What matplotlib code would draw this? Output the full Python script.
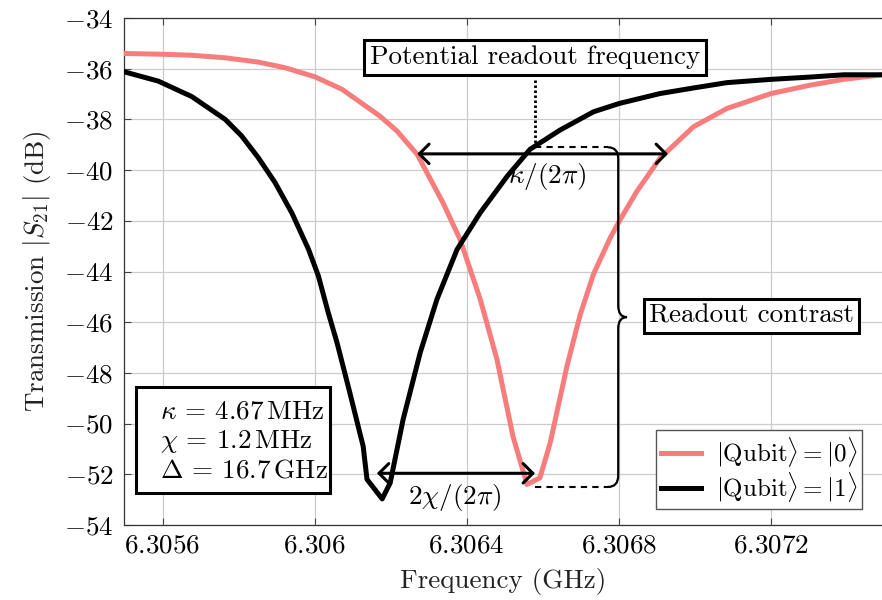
import matplotlib
matplotlib.use('Agg')
import matplotlib.pyplot as plt
from matplotlib.path import Path
from matplotlib.patches import PathPatch, Rectangle

plt.rcParams.update({
    'font.family': 'serif',
    'font.serif': ['cmr10'],
    'mathtext.fontset': 'cm',
    'axes.unicode_minus': False,
    'font.size': 19.5,
})

# ---- data ----
freq_q0 = [6.305501, 6.305600, 6.305677, 6.305765, 6.305852, 6.305922, 6.306001,
           6.306072, 6.306172, 6.306217, 6.306270, 6.306338, 6.306383, 6.306436,
           6.306480, 6.306522, 6.306559, 6.306593, 6.306620, 6.306664, 6.306699,
           6.306734, 6.306778, 6.306802, 6.306848, 6.306909, 6.306997, 6.307085,
           6.307201, 6.307304, 6.307392, 6.307493]
s21_q0 = [-35.40, -35.43, -35.47, -35.57, -35.74, -35.96, -36.32,
          -36.81, -37.87, -38.46, -39.38, -41.29, -42.74, -45.10,
          -47.47, -50.50, -52.40, -52.14, -50.76, -47.74, -45.70,
          -44.10, -42.67, -42.01, -40.84, -39.53, -38.29, -37.57,
          -36.98, -36.65, -36.42, -36.24]

freq_q1 = [6.305501, 6.305589, 6.305677, 6.305765, 6.305808, 6.305852, 6.305896,
           6.305940, 6.305984, 6.306010, 6.306036, 6.306059, 6.306093, 6.306128,
           6.306138, 6.306178, 6.306199, 6.306233, 6.306278, 6.306322, 6.306375,
           6.306436, 6.306507, 6.306567, 6.306646, 6.306734, 6.306802, 6.306909,
           6.306997, 6.307085, 6.307201, 6.307304, 6.307392, 6.307493]
s21_q1 = [-36.13, -36.49, -37.10, -38.00, -38.65, -39.51, -40.49,
          -41.68, -43.12, -44.17, -45.62, -46.80, -48.79, -50.90,
          -52.20, -52.97, -52.34, -49.84, -47.20, -45.10, -43.13,
          -41.68, -40.24, -39.18, -38.42, -37.70, -37.37, -36.98,
          -36.76, -36.55, -36.42, -36.33, -36.24, -36.24]

x_ticks = [6.3056, 6.3060, 6.3064, 6.3068, 6.3072]
x_tick_labels = ['6.3056', '6.306', '6.3064', '6.3068', '6.3072']
y_ticks = [-54, -52, -50, -48, -46, -44, -42, -40, -38, -36, -34]

labels = [r'$|\mathrm{Qubit}\rangle = |0\rangle$', r'$|\mathrm{Qubit}\rangle = |1\rangle$']
params_text = '\n'.join([r'$\kappa$ = 4.67$\,$MHz', r'$\chi$ = 1.2$\,$MHz', r'$\Delta$ = 16.7$\,$GHz'])

# annotation anchors (data units)
readout_f = 6.30658
contrast_top = -39.1
contrast_bot = -52.5
kappa_left, kappa_right, kappa_y = 6.30627, 6.30693, -39.36
chi_left, chi_right, chi_y = 6.306164, 6.30658, -51.96

RED = '#F77C7C'

fig = plt.figure(figsize=(8.82, 6.0), dpi=100)
ax = fig.add_axes([124.5 / 882, 75 / 600, 757.5 / 882, 507 / 600])

ax.plot(freq_q0, s21_q0, color=RED, lw=3.6, label=labels[0], solid_joinstyle='round', zorder=3)
ax.plot(freq_q1, s21_q1, color='black', lw=3.6, label=labels[1], solid_joinstyle='round', zorder=3)

ax.set_xlim(6.3055, 6.307493)
ax.set_ylim(-54, -34)
ax.set_xticks(x_ticks)
ax.set_xticklabels(['$' + t + '$' for t in x_tick_labels])
ax.set_yticks(y_ticks)
ax.set_yticklabels(['$%d$' % v for v in y_ticks])
ax.grid(True, color='#cccccc', lw=0.9, zorder=0)
ax.set_axisbelow(True)
ax.tick_params(direction='in', length=5, width=0.8, color='#444444',
               top=True, right=False, pad=6)
ax.tick_params(axis='y', pad=8)
for s in ['left', 'bottom', 'top']:
    ax.spines[s].set_linewidth(0.9)
    ax.spines[s].set_color('#333333')
ax.spines['right'].set_visible(False)

ax.set_xlabel('Frequency (GHz)', labelpad=8, color='#222222')
ax.set_ylabel(r'Transmission $|S_{21}|$ (dB)', labelpad=8, color='#222222')

# potential readout frequency
ax.text(readout_f, -35.56, 'Potential readout frequency', ha='center', va='center',
        bbox=dict(boxstyle='square,pad=0.2', fc='white', ec='black', lw=2.2), zorder=5)
ax.plot([readout_f, readout_f], [-36.45, contrast_top + 0.15], color='black', lw=2.0,
        linestyle=(0, (0.9, 0.9)), zorder=4)

# kappa arrow
ax.annotate('', xy=(kappa_right, kappa_y), xytext=(kappa_left, kappa_y),
            arrowprops=dict(arrowstyle='<->,head_length=0.35,head_width=0.35', lw=2.2,
                            color='black', shrinkA=0, shrinkB=0, mutation_scale=20), zorder=4)
ax.text(6.306613, -40.27, r'$\kappa/(2\pi)$', ha='center', va='center', zorder=4)

# chi arrow
ax.annotate('', xy=(chi_right, chi_y), xytext=(chi_left, chi_y),
            arrowprops=dict(arrowstyle='<->,head_length=0.35,head_width=0.35', lw=2.2,
                            color='black', shrinkA=0, shrinkB=0, mutation_scale=20), zorder=4)
ax.text(6.306368, -52.9, r'$2\chi/(2\pi)$', ha='center', va='center', zorder=4)

# dashed guides
bx0 = 6.306772
bx = 6.306799
tipx = 6.306822
ax.plot([readout_f, bx0], [contrast_top, contrast_top], color='black', lw=1.5,
        linestyle=(0, (3, 2.5)), zorder=4)
ax.plot([readout_f, bx0], [contrast_bot, contrast_bot], color='black', lw=1.5,
        linestyle=(0, (3, 2.5)), zorder=4)

# brace
ymid = 0.5 * (contrast_top + contrast_bot)
r = 0.45
verts = [(bx0, contrast_top), (bx, contrast_top), (bx, contrast_top - r),
         (bx, ymid + r), (bx, ymid), (tipx, ymid), (bx, ymid), (bx, ymid - r),
         (bx, contrast_bot + r), (bx, contrast_bot), (bx0, contrast_bot)]
codes = [Path.MOVETO, Path.CURVE3, Path.CURVE3, Path.LINETO, Path.CURVE3, Path.CURVE3,
         Path.CURVE3, Path.CURVE3, Path.LINETO, Path.CURVE3, Path.CURVE3]
ax.add_patch(PathPatch(Path(verts, codes), fc='none', ec='black', lw=1.6, zorder=4))

ax.text(6.30715, -45.76, 'Readout contrast', ha='center', va='center',
        bbox=dict(boxstyle='square,pad=0.2', fc='white', ec='black', lw=2.2), zorder=5)

# parameter box
ax.add_patch(Rectangle((0.0152, 0.0631), 0.2561, 0.2091, transform=ax.transAxes,
                       fc='white', ec='black', lw=2.2, zorder=5))
ax.text(0.0469, 0.1657, params_text, transform=ax.transAxes, ha='left', va='center',
        linespacing=1.2, zorder=6)

leg = ax.legend(loc='lower right', bbox_to_anchor=(0.9736, 0.0316), borderaxespad=0,
                fancybox=False, edgecolor='#555555', framealpha=1, fontsize=18,
                handlelength=1.6, handletextpad=0.6, labelspacing=0.05, borderpad=0.2)
leg.get_frame().set_linewidth(1.0)
leg.set_zorder(6)

fig.savefig('out.png', dpi=100)
